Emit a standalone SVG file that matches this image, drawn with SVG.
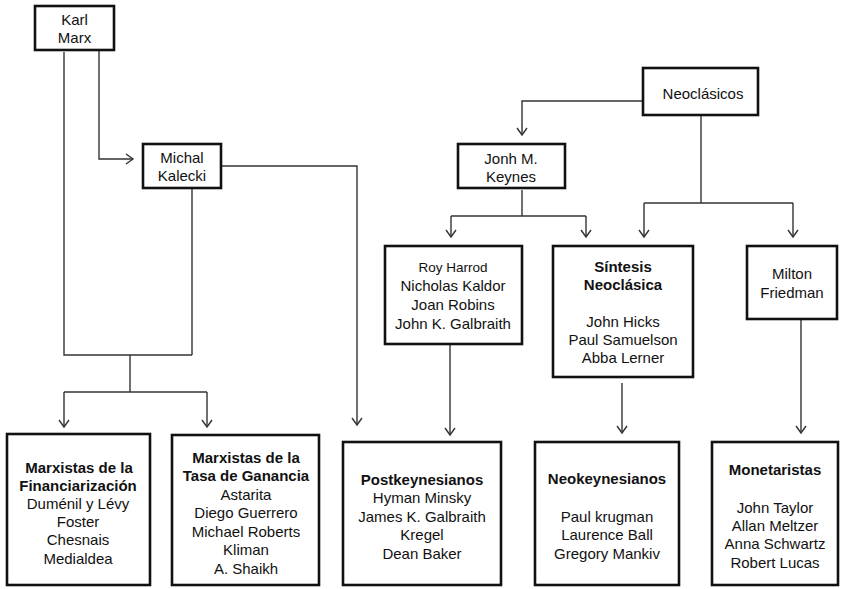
<svg xmlns="http://www.w3.org/2000/svg" width="846" height="589" viewBox="0 0 846 589">
<style>
  .box { fill: #fff; stroke: #111; stroke-width: 2.6; }
  .t { font-family: "Liberation Sans", Arial, sans-serif; font-size: 15px; fill: #111; text-anchor: middle; }
  .b { font-weight: bold; }
  .s { font-size: 13.5px; }
  .c { fill: none; stroke: #333; stroke-width: 1.4; }
</style>
<defs>
  <marker id="arr" markerUnits="userSpaceOnUse" markerWidth="12" markerHeight="12" viewBox="-8 -6 10 12" refX="0" refY="0" orient="auto" overflow="visible">
    <path d="M-7,-5 L0,0 L-7,5" fill="none" stroke="#333" stroke-width="1.4"/>
  </marker>
</defs>
<rect width="846" height="589" fill="#fff"/>
<g id="connectors">
  <path class="c" d="M64,52 V355 H192"/>
  <path class="c" d="M192,188 V355"/>
  <path class="c" d="M130,355 V392"/>
  <path class="c" d="M64,392 H207"/>
  <path class="c" d="M64,392 V427" marker-end="url(#arr)"/>
  <path class="c" d="M207,392 V427" marker-end="url(#arr)"/>
  <path class="c" d="M99,50 V159 H133" marker-end="url(#arr)"/>
  <path class="c" d="M221,166 H357 V425" marker-end="url(#arr)"/>
  <path class="c" d="M643,101 H522 V135" marker-end="url(#arr)"/>
  <path class="c" d="M522,190 V216"/>
  <path class="c" d="M451,216 H586"/>
  <path class="c" d="M451,216 V237" marker-end="url(#arr)"/>
  <path class="c" d="M586,216 V237" marker-end="url(#arr)"/>
  <path class="c" d="M701,115 V203"/>
  <path class="c" d="M644,203 H793"/>
  <path class="c" d="M644,203 V237" marker-end="url(#arr)"/>
  <path class="c" d="M793,203 V237" marker-end="url(#arr)"/>
  <path class="c" d="M450,344 V435" marker-end="url(#arr)"/>
  <path class="c" d="M622,383 V433" marker-end="url(#arr)"/>
  <path class="c" d="M801,319 V433" marker-end="url(#arr)"/>
</g>
<g id="marx">
  <rect class="box" x="35" y="6" width="79" height="44"/>
  <text class="t" x="74.5" y="25">Karl</text>
  <text class="t" x="74.5" y="43">Marx</text>
</g>
<g id="kalecki">
  <rect class="box" x="143" y="144" width="78" height="44"/>
  <text class="t" x="182" y="163">Michal</text>
  <text class="t" x="182" y="181">Kalecki</text>
</g>
<g id="neoclasicos">
  <rect class="box" x="643" y="68" width="115" height="47"/>
  <text class="t" x="703" y="98.5">Neoclásicos</text>
</g>
<g id="keynes">
  <rect class="box" x="458" y="144" width="107" height="44"/>
  <text class="t" x="511" y="163.5">Jonh M.</text>
  <text class="t" x="511" y="181.5">Keynes</text>
</g>
<g id="harrod">
  <rect class="box" x="385" y="246" width="137" height="98"/>
  <text class="t s" x="453" y="272">Roy Harrod</text>
  <text class="t" x="453" y="291">Nicholas Kaldor</text>
  <text class="t" x="453" y="310">Joan Robins</text>
  <text class="t" x="453" y="328.5">John K. Galbraith</text>
</g>
<g id="sintesis">
  <rect class="box" x="553" y="246" width="140" height="131"/>
  <text class="t b" x="623" y="271.5">Síntesis</text>
  <text class="t b" x="623" y="289.5">Neoclásica</text>
  <text class="t" x="623" y="326.5">John Hicks</text>
  <text class="t" x="623" y="344.5">Paul Samuelson</text>
  <text class="t" x="623" y="363">Abba Lerner</text>
</g>
<g id="friedman">
  <rect class="box" x="747" y="246" width="90" height="73"/>
  <text class="t" x="792" y="278.5">Milton</text>
  <text class="t" x="792" y="297.5">Friedman</text>
</g>
<g id="financiarizacion">
  <rect class="box" x="7" y="434" width="143" height="151"/>
  <text class="t b" x="79" y="472.5">Marxistas de la</text>
  <text class="t b" x="78" y="490.5">Financiarización</text>
  <text class="t" x="78" y="508.5">Duménil y Lévy</text>
  <text class="t" x="78" y="527">Foster</text>
  <text class="t" x="78" y="545">Chesnais</text>
  <text class="t" x="78" y="563.5">Medialdea</text>
</g>
<g id="tasa">
  <rect class="box" x="172" y="435" width="147" height="150"/>
  <text class="t b" x="246" y="462.5">Marxistas de la</text>
  <text class="t b" x="246" y="481">Tasa de Ganancia</text>
  <text class="t" x="246" y="499.5">Astarita</text>
  <text class="t" x="246" y="518">Diego Guerrero</text>
  <text class="t" x="246" y="536.5">Michael Roberts</text>
  <text class="t" x="246" y="555">Kliman</text>
  <text class="t" x="246" y="573.5">A. Shaikh</text>
</g>
<g id="postkeynesianos">
  <rect class="box" x="343" y="442" width="158" height="143"/>
  <text class="t b" x="422" y="484.5">Postkeynesianos</text>
  <text class="t" x="422" y="503">Hyman Minsky</text>
  <text class="t" x="422" y="521.5">James K. Galbraith</text>
  <text class="t" x="422" y="540">Kregel</text>
  <text class="t" x="422" y="558.5">Dean Baker</text>
</g>
<g id="neokeynesianos">
  <rect class="box" x="535" y="442" width="144" height="143"/>
  <text class="t b" x="607" y="483.5">Neokeynesianos</text>
  <text class="t" x="607" y="521.5">Paul krugman</text>
  <text class="t" x="607" y="540">Laurence Ball</text>
  <text class="t" x="607" y="558.5">Gregory Mankiv</text>
</g>
<g id="monetaristas">
  <rect class="box" x="712" y="442" width="126" height="143"/>
  <text class="t b" x="775" y="474.5">Monetaristas</text>
  <text class="t" x="775" y="512.5">John Taylor</text>
  <text class="t" x="775" y="531">Allan Meltzer</text>
  <text class="t" x="775" y="549">Anna Schwartz</text>
  <text class="t" x="775" y="567.5">Robert Lucas</text>
</g>
</svg>
